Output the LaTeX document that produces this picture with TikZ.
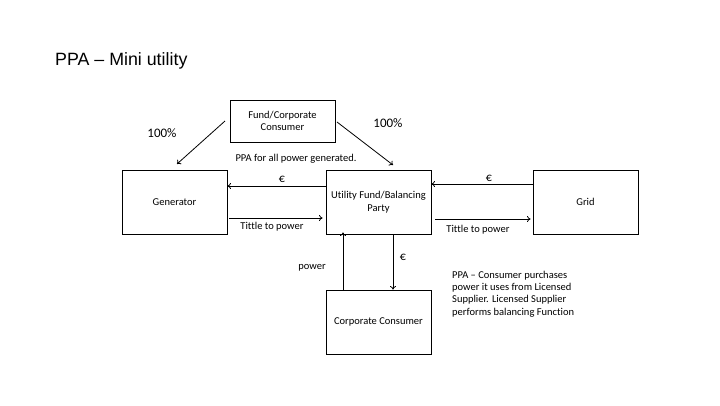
\documentclass[tikz,border=0pt]{standalone}
\usepackage{fontspec}
\setmainfont{Carlito}[Ligatures={NoCommon}]
\newfontfamily\arialfont{Liberation Sans}
\usetikzlibrary{arrows.meta}
\begin{document}
\begin{tikzpicture}[x=1pt,y=-1pt,
  box/.style={draw=black,line width=0.9pt,align=center,font=\fontsize{10.5}{12.5}\selectfont,inner sep=0pt},
  conn/.style={draw=black,line width=0.8pt,-{To[length=3.5pt,width=6pt]}},
  lbl/.style={font=\fontsize{10.5}{12.5}\selectfont,inner sep=0pt},
  euro/.style={font=\fontsize{12}{14}\selectfont,inner sep=0pt},
  pct/.style={font=\fontsize{13}{15}\selectfont,inner sep=0pt}]
\useasboundingbox (0,0) rectangle (720,405);
\node[font=\arialfont\fontsize{17.8}{20}\selectfont,anchor=west,inner sep=0pt] (title) at (55,61) {PPA – Mini utility};
\node[box,minimum width=105pt,minimum height=42pt] (fund) at (282.5,121) {Fund/Corporate\\Consumer};
\node[box,minimum width=105pt,minimum height=64pt] (gen) at (174.5,202) {Generator};
\node[box,minimum width=105pt,minimum height=64pt] (util) at (378.5,202) {Utility Fund/Balancing\\Party};
\node[box,minimum width=105pt,minimum height=64pt] (grid) at (585.5,202) {Grid};
\node[box,minimum width=105pt,minimum height=64pt] (corp) at (378.5,322) {Corporate Consumer};
\coordinate (f1) at (225,121);
\coordinate (g1) at (177,164);
\coordinate (f2) at (337,122);
\coordinate (u1) at (393,165);
\draw[conn] (f1) -- (g1);
\draw[conn] (f2) -- (u1);
\draw[conn] (util.west |- 0,186) -- (gen.east |- 0,186);
\draw[conn] ([xshift=2pt]gen.east |- 0,218) -- ([xshift=-3pt]util.west |- 0,218);
\draw[conn] (grid.west |- 0,184) -- (util.east |- 0,184);
\draw[conn] ([xshift=4pt]util.east |- 0,219) -- ([xshift=-2pt]grid.west |- 0,219);
\draw[conn] (util.south -| 393,0) -- (corp.north -| 393,0);
\draw[conn] (corp.north -| 343,0) -- ([yshift=2pt]util.south -| 343,0);
\node[pct] (p1) at (162,133) {100\%};
\node[pct] (p2) at (388,123) {100\%};
\node[lbl] (ppa) at (296,159) {PPA for all power generated.};
\node[euro] (e1) at (282,179) {€};
\node[euro] (e2) at (489,178) {€};
\node[euro] (e3) at (403,257) {€};
\node[lbl] (t1) at (272,227) {Tittle to power};
\node[lbl] (t2) at (478,230) {Tittle to power};
\node[lbl] (pw) at (312,268) {power};
\node[lbl,anchor=north west,align=left,font=\fontsize{10.5}{12.2}\selectfont] (note) at (452,271) {PPA – Consumer purchases\\power it uses from Licensed\\Supplier. Licensed Supplier\\performs balancing Function};
\end{tikzpicture}
\end{document}
